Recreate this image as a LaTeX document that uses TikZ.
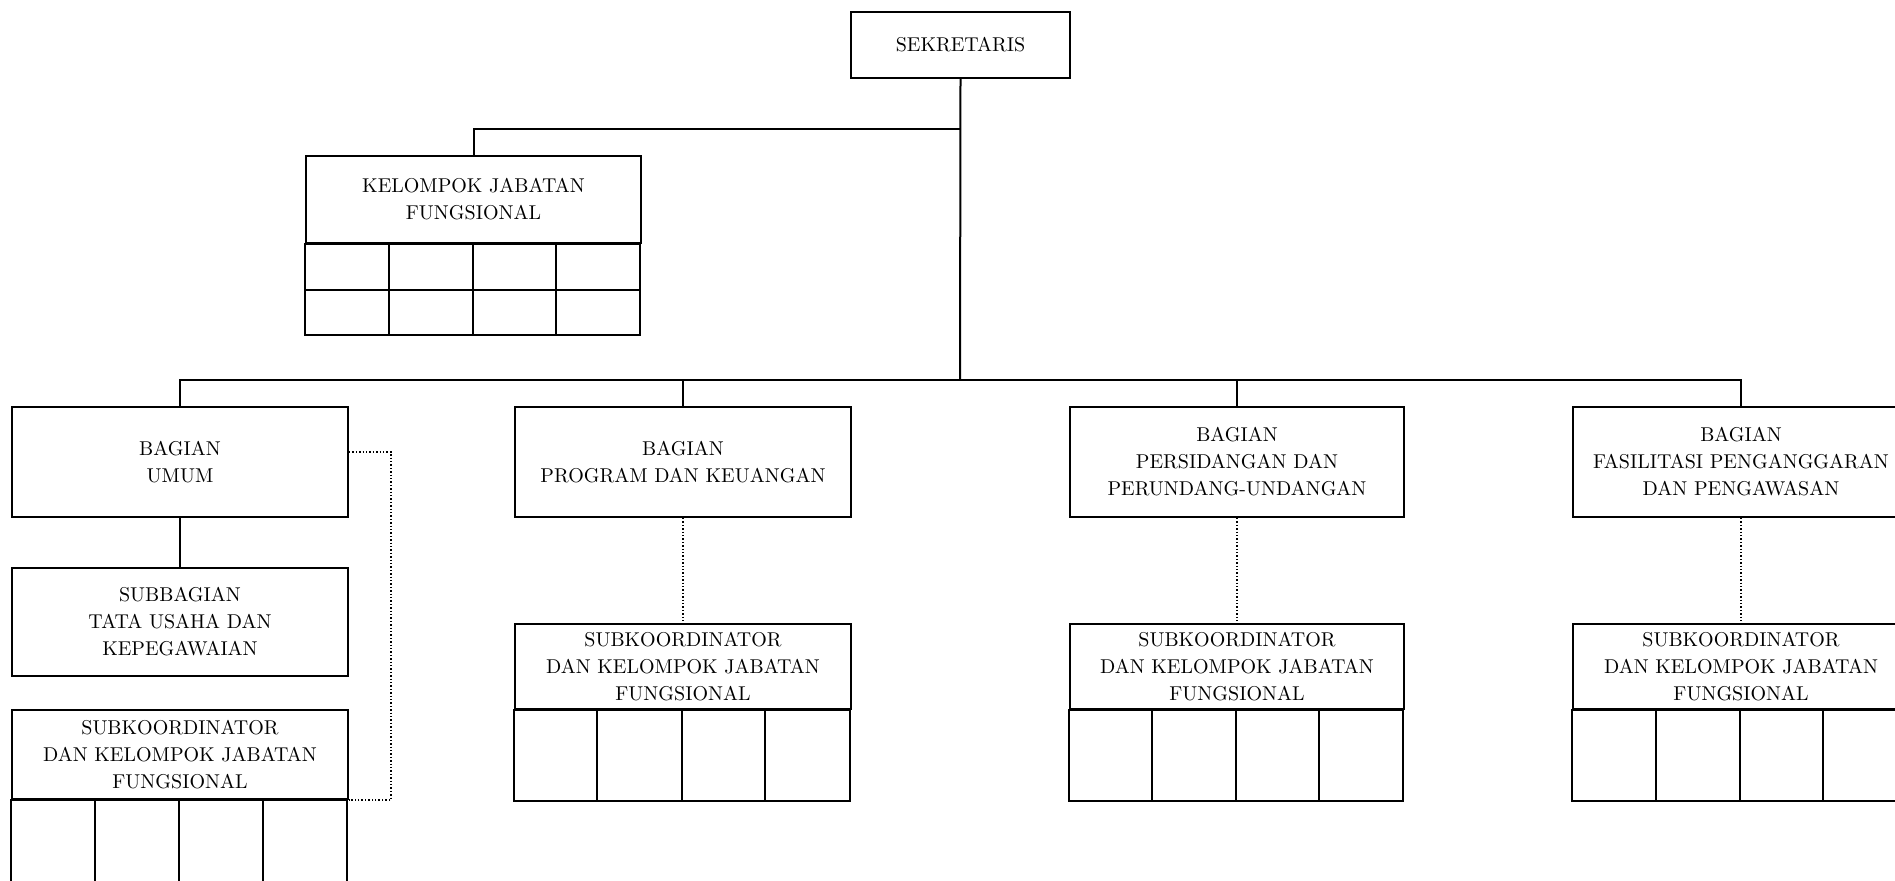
\documentclass[tikz,border=0pt]{standalone}
\tikzset{
  box/.style={draw, line width=1pt, inner sep=0pt, align=center, font=\fontsize{10}{13.5}\selectfont},
  link/.style={line width=1pt},
  dotlink/.style={line width=0.7pt, densely dotted},
}
\begin{document}
\begin{tikzpicture}[x=0.5pt,y=0.5pt,yscale=-1,xscale=1]
\useasboundingbox (0,0) rectangle (1895,880);

% Top
\node [box, minimum width=109.5pt, minimum height=33pt] (sek) at (960.5,44.5) {SEKRETARIS};
\coordinate (kbr) at (960,129);
\coordinate (bus) at (960,380);

% Kelompok jabatan fungsional
\node [box, minimum width=167.5pt, minimum height=43.5pt] (kjf) at (473.5,199.5) {KELOMPOK JABATAN\\FUNGSIONAL};
\draw [link] (kjf.south west) rectangle ++(335,91);
\draw [link] (kjf.south west) ++(0,46) -- ++(335,0);
\draw [link] (kjf.south west) ++(84,0) -- ++(0,91);
\draw [link] (kjf.south west) ++(167.5,0) -- ++(0,91);
\draw [link] (kjf.south west) ++(251,0) -- ++(0,91);

% Bagian
\node [box, minimum width=168pt, minimum height=55pt] (umum) at (180,462) {BAGIAN\\UMUM};
\node [box, minimum width=168pt, minimum height=55pt] (prog) at (683,462) {BAGIAN\\PROGRAM DAN KEUANGAN};
\node [box, minimum width=167pt, minimum height=55pt] (sidang) at (1237,462) {BAGIAN\\PERSIDANGAN DAN\\PERUNDANG-UNDANGAN};
\node [box, minimum width=168pt, minimum height=55pt] (fasil) at (1741,462) {BAGIAN\\FASILITASI PENGANGGARAN\\DAN PENGAWASAN};

% Bagian umum
\node [box, minimum width=168pt, minimum height=54pt] (tu) at (180,622) {SUBBAGIAN\\TATA USAHA DAN\\KEPEGAWAIAN};
\node [box, minimum width=168pt, minimum height=44.5pt] (subU) at (180,754.5) {SUBKOORDINATOR\\DAN KELOMPOK JABATAN\\FUNGSIONAL};
\draw [link] (subU.south west) rectangle ++(336,91);
\draw [link] (subU.south west) ++(84,0) -- ++(0,91);
\draw [link] (subU.south west) ++(168,0) -- ++(0,91);
\draw [link] (subU.south west) ++(252,0) -- ++(0,91);

% Subkoordinator
\node [box, minimum width=168pt, minimum height=42.5pt] (subP) at (683,666.5) {SUBKOORDINATOR\\DAN KELOMPOK JABATAN\\FUNGSIONAL};
\draw [link] (subP.south west) rectangle ++(336,91);
\draw [link] (subP.south west) ++(83,0) -- ++(0,91);
\draw [link] (subP.south west) ++(168,0) -- ++(0,91);
\draw [link] (subP.south west) ++(251,0) -- ++(0,91);

\node [box, minimum width=167pt, minimum height=42.5pt] (subS) at (1237,666.5) {SUBKOORDINATOR\\DAN KELOMPOK JABATAN\\FUNGSIONAL};
\draw [link] (subS.south west) rectangle ++(334,91);
\draw [link] (subS.south west) ++(83,0) -- ++(0,91);
\draw [link] (subS.south west) ++(167,0) -- ++(0,91);
\draw [link] (subS.south west) ++(250,0) -- ++(0,91);

\node [box, minimum width=168pt, minimum height=42.5pt] (subF) at (1741,666.5) {SUBKOORDINATOR\\DAN KELOMPOK JABATAN\\FUNGSIONAL};
\draw [link] (subF.south west) rectangle ++(336,91);
\draw [link] (subF.south west) ++(84,0) -- ++(0,91);
\draw [link] (subF.south west) ++(168,0) -- ++(0,91);
\draw [link] (subF.south west) ++(251,0) -- ++(0,91);

% Lines
\draw [link] (sek.south) -- (bus);
\draw [link] (kbr) -| (kjf.north);
\draw [link] (umum.north) |- (bus) -| (fasil.north);
\draw [link] (prog.north) -- (prog.north |- bus);
\draw [link] (sidang.north) -- (sidang.north |- bus);
\draw [link] (umum.south) -- (tu.north);

% Dotted lines
\draw [dotlink] ([yshift=-5pt]umum.east) -| ([xshift=21pt]subU.south east) -- (subU.south east);
\draw [dotlink] (prog.south) -- (subP.north);
\draw [dotlink] (sidang.south) -- (subS.north);
\draw [dotlink] (fasil.south) -- (subF.north);

\end{tikzpicture}
\end{document}
